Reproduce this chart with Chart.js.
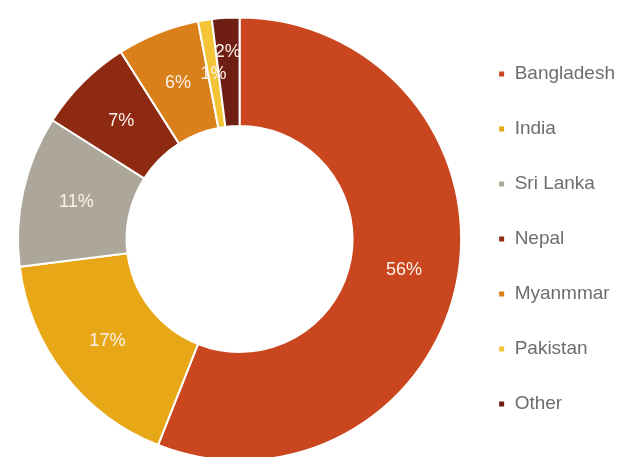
<!DOCTYPE html>
<html>
<head>
<meta charset="utf-8">
<script src="https://cdn.jsdelivr.net/npm/chart.js@4.4.1/dist/chart.umd.min.js"></script>
<style>
    html, body { margin: 0; padding: 0; background: #fff; overflow: hidden; }
    #wrap { position: relative; width: 628px; height: 470px; }
</style>
</head>
<body>
<div id="wrap"><canvas id="originChart"></canvas></div>
<script>
const categories = ['Bangladesh', 'India', 'Sri Lanka', 'Nepal', 'Myanmmar', 'Pakistan', 'Other'];
const shares = [56, 17, 11, 7, 6, 1, 2];
const sliceColors = ['#C9461F', '#E8A717', '#ADA79B', '#8E2A12', '#D9801A', '#F3C436', '#6F1E14'];
const labelRadius = [1, 1, 1, 1, 1, 1, 1.12]; // tiny "Other" slice label sits further out

// percent labels inside the ring
const percentLabels = {
    id: 'percentLabels',
    afterDatasetsDraw(chart) {
        const ctx = chart.ctx;
        const meta = chart.getDatasetMeta(0);
        ctx.save();
        ctx.font = '18px "Liberation Sans", Arial, sans-serif';
        ctx.fillStyle = '#fbf1e8';
        ctx.textAlign = 'center';
        ctx.textBaseline = 'middle';
        meta.data.forEach((arc, i) => {
            const p = arc.getProps(['x', 'y', 'startAngle', 'endAngle', 'innerRadius', 'outerRadius'], true);
            const mid = (p.startAngle + p.endAngle) / 2;
            const r = (p.innerRadius + p.outerRadius) / 2 * labelRadius[i];
            ctx.fillText(shares[i] + '%', p.x + Math.cos(mid) * r, p.y + Math.sin(mid) * r);
        });
        ctx.restore();
    }
};

const ctx = document.getElementById('originChart').getContext('2d');
new Chart(ctx, {
    type: 'doughnut',
    data: {
        labels: categories,
        datasets: [{
            data: shares,
            backgroundColor: sliceColors,
            borderColor: '#ffffff',
            borderWidth: 2,
        }],
    },
    options: {
        responsive: true,
        maintainAspectRatio: false,
        animation: false,
        cutout: '51%',
        layout: {
            padding: { top: 16, bottom: 8, left: 17, right: 3 },
        },
        plugins: {
            legend: {
                position: 'right',
                labels: {
                    boxWidth: 7,
                    boxHeight: 7,
                    padding: 36,
                    color: '#6d6d6d',
                    font: { family: '"Liberation Sans", Arial, sans-serif', size: 19 },
                },
            },
            tooltip: { enabled: false },
        },
    },
    plugins: [percentLabels],
});
</script>
</body>
</html>
